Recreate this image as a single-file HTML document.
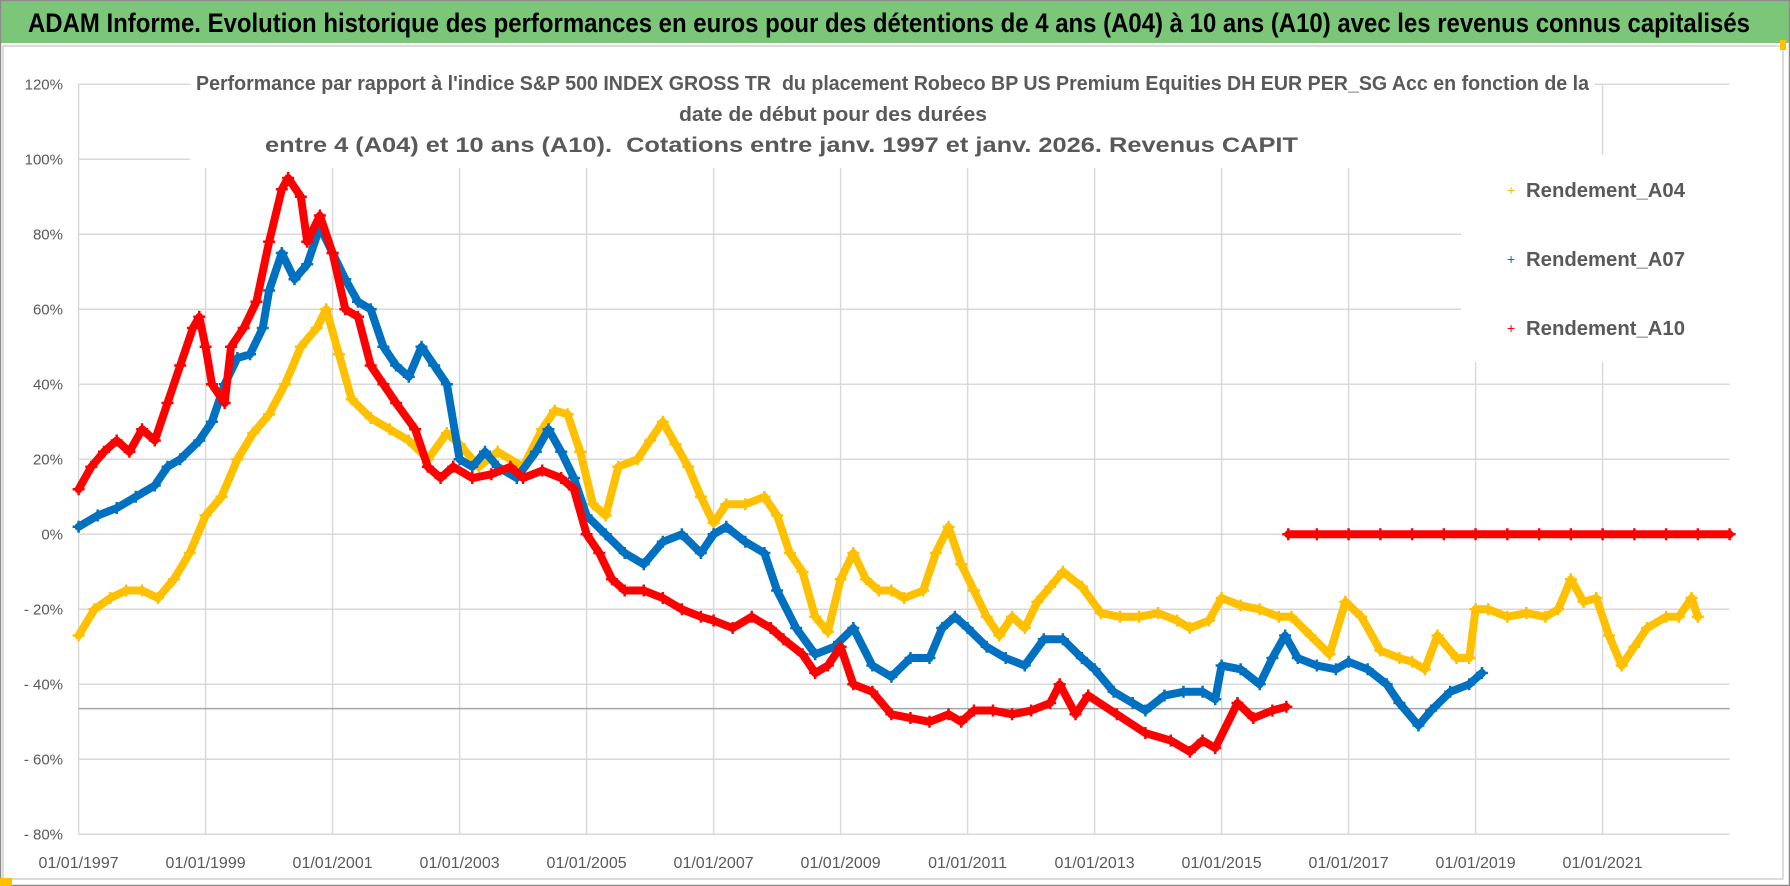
<!DOCTYPE html>
<html><head><meta charset="utf-8"><style>
html,body{margin:0;padding:0;background:#fff;}
svg{display:block;}
text{font-family:"Liberation Sans Narrow","Liberation Sans",sans-serif;white-space:pre;}
</style></head><body>
<svg id="chart" width="1790" height="886" viewBox="0 0 1790 886">
<rect x="0" y="0" width="1790" height="886" fill="#fff"/>
<rect x="0" y="0" width="1790" height="43" fill="#7cc67a"/>
<rect x="0.5" y="0.5" width="1789" height="885" fill="none" stroke="#8c8c8c" stroke-width="1.5"/>
<rect x="3" y="46" width="1780" height="833" fill="none" stroke="#d0d0d0" stroke-width="1.5"/>
<text x="28" y="32" font-size="27" font-weight="bold" fill="#000" textLength="1722" lengthAdjust="spacingAndGlyphs">ADAM Informe. Evolution historique des performances en euros pour des détentions de 4 ans (A04) à 10 ans (A10) avec les revenus connus capitalisés</text>
<g id="grid"></g>
<g id="series"></g>
<g font-weight="bold" fill="#595959">
<text x="196" y="90" font-size="20" textLength="1393" lengthAdjust="spacingAndGlyphs">Performance par rapport à l'indice S&amp;P 500 INDEX GROSS TR  du placement Robeco BP US Premium Equities DH EUR PER_SG Acc en fonction de la</text>
<text x="679" y="121" font-size="20" textLength="308" lengthAdjust="spacingAndGlyphs">date de début pour des durées</text>
<text x="265" y="152" font-size="21" textLength="1033" lengthAdjust="spacingAndGlyphs">entre 4 (A04) et 10 ans (A10).  Cotations entre janv. 1997 et janv. 2026. Revenus CAPIT</text>
<g>
<text x="1507" y="195" font-size="14" fill="#ffc000" font-weight="normal">+</text>
<text x="1526" y="197" font-size="20" textLength="159" lengthAdjust="spacingAndGlyphs">Rendement_A04</text>
<text x="1507" y="264" font-size="14" fill="#0070c0" font-weight="normal">+</text>
<text x="1526" y="266" font-size="20" textLength="159" lengthAdjust="spacingAndGlyphs">Rendement_A07</text>
<text x="1507" y="333" font-size="14" fill="#ff0000" font-weight="normal">+</text>
<text x="1526" y="335" font-size="20" textLength="159" lengthAdjust="spacingAndGlyphs">Rendement_A10</text>
</g>
</g>
<rect x="0" y="878" width="12" height="8" fill="#ffc000"/>
<rect x="1780" y="40" width="6" height="10" fill="#ffc000"/>
</svg>
<script>
const years = [1997,1999,2001,2003,2005,2007,2009,2011,2013,2015,2017,2019,2021];
const yTicks = [120,100,80,60,40,20,0,-20,-40,-60,-80];
const yTickLabels = ["120%","100%","80%","60%","40%","20%","0%","- 20%","- 40%","- 60%","- 80%"];
const refLine = -46.5;

const a04Dates = [1997.0,1997.25,1997.5,1997.75,1998.0,1998.25,1998.5,1998.75,1999.0,1999.25,1999.5,1999.75,2000.0,2000.25,2000.5,2000.75,2000.9,2001.1,2001.3,2001.6,2001.9,2002.2,2002.5,2002.8,2003.0,2003.3,2003.6,2004.0,2004.3,2004.5,2004.7,2004.9,2005.1,2005.3,2005.5,2005.8,2006.0,2006.2,2006.4,2006.6,2006.8,2007.0,2007.2,2007.5,2007.8,2008.0,2008.2,2008.4,2008.6,2008.8,2009.0,2009.2,2009.4,2009.6,2009.8,2010.0,2010.3,2010.5,2010.7,2010.9,2011.1,2011.3,2011.5,2011.7,2011.9,2012.1,2012.3,2012.5,2012.8,2013.1,2013.4,2013.7,2014.0,2014.3,2014.5,2014.8,2015.0,2015.3,2015.6,2015.9,2016.1,2016.4,2016.7,2016.95,2017.2,2017.5,2017.8,2018.0,2018.2,2018.4,2018.7,2018.9,2019.0,2019.2,2019.5,2019.8,2020.1,2020.3,2020.5,2020.7,2020.9,2021.1,2021.3,2021.5,2021.7,2022.0,2022.2,2022.4,2022.5];
const a04Values = [-27,-20,-17,-15,-15,-17,-12,-5,5,10,20,27,32,40,50,55,60,48,36,31,28,25,20,27,24,18,22,18,28,33,32,22,8,5,18,20,25,30,24,18,10,3,8,8,10,5,-5,-10,-22,-26,-12,-5,-12,-15,-15,-17,-15,-5,2,-8,-15,-22,-27,-22,-25,-18,-14,-10,-14,-21,-22,-22,-21,-23,-25,-23,-17,-19,-20,-22,-22,-27,-32,-18,-22,-31,-33,-34,-36,-27,-33,-33,-20,-20,-22,-21,-22,-20,-12,-18,-17,-27,-35,-30,-25,-22,-22,-17,-22];

const a07Dates = [1997.0,1997.3,1997.6,1997.9,1998.2,1998.4,1998.6,1998.9,1999.1,1999.3,1999.5,1999.7,1999.9,2000.0,2000.2,2000.4,2000.6,2000.8,2001.0,2001.2,2001.4,2001.6,2001.8,2002.0,2002.2,2002.4,2002.6,2002.8,2003.0,2003.2,2003.4,2003.6,2003.9,2004.2,2004.4,2004.6,2004.8,2005.0,2005.3,2005.6,2005.9,2006.2,2006.5,2006.8,2007.0,2007.2,2007.5,2007.8,2008.0,2008.3,2008.6,2008.9,2009.2,2009.5,2009.8,2010.1,2010.4,2010.6,2010.8,2011.0,2011.3,2011.6,2011.9,2012.2,2012.5,2012.8,2013.0,2013.3,2013.6,2013.8,2014.1,2014.4,2014.7,2014.9,2015.0,2015.3,2015.6,2015.8,2016.0,2016.2,2016.5,2016.8,2017.0,2017.3,2017.6,2017.8,2018.1,2018.3,2018.6,2018.9,2019.1];
const a07Values = [2,5,7,10,13,18,20,25,30,40,47,48,55,65,75,68,72,82,75,68,62,60,50,45,42,50,45,40,20,18,22,18,15,22,28,22,15,5,0,-5,-8,-2,0,-5,0,2,-2,-5,-15,-25,-32,-30,-25,-35,-38,-33,-33,-25,-22,-25,-30,-33,-35,-28,-28,-33,-36,-42,-45,-47,-43,-42,-42,-44,-35,-36,-40,-33,-27,-33,-35,-36,-34,-36,-40,-45,-51,-47,-42,-40,-37];

const a10Dates = [1997.0,1997.2,1997.4,1997.6,1997.8,1998.0,1998.2,1998.4,1998.6,1998.8,1998.9,1999.0,1999.1,1999.3,1999.4,1999.6,1999.8,2000.0,2000.2,2000.3,2000.5,2000.6,2000.8,2001.0,2001.2,2001.4,2001.6,2001.8,2002.0,2002.3,2002.5,2002.7,2002.9,2003.2,2003.5,2003.8,2004.0,2004.3,2004.6,2004.8,2005.0,2005.2,2005.4,2005.6,2005.9,2006.2,2006.5,2006.8,2007.0,2007.3,2007.6,2007.9,2008.1,2008.4,2008.6,2008.8,2009.0,2009.2,2009.5,2009.8,2010.1,2010.4,2010.7,2010.9,2011.1,2011.4,2011.7,2012.0,2012.3,2012.45,2012.7,2012.9,2013.35,2013.8,2014.2,2014.5,2014.7,2014.9,2015.25,2015.5,2015.8,2016.02,2016.03,2016.05,2016.5,2017.0,2017.5,2018.0,2018.5,2019.0,2019.5,2020.0,2020.5,2021.0,2021.5,2022.0,2022.5,2023.0];
const a10Values = [12,18,22,25,22,28,25,35,45,55,58,50,40,35,50,55,62,78,92,95,90,78,85,75,60,58,45,40,35,28,18,15,18,15,16,18,15,17,15,12,0,-5,-12,-15,-15,-17,-20,-22,-23,-25,-22,-25,-28,-32,-37,-35,-30,-40,-42,-48,-49,-50,-48,-50,-47,-47,-48,-47,-45,-40,-48,-43,-48,-53,-55,-58,-55,-57,-45,-49,-47,-46,null,0,0,0,0,0,0,0,0,0,0,0,0,0,0,0];

const NS = "http://www.w3.org/2000/svg";
const X0 = 78.6, PXY = 63.5, Y0 = 534.3, PXV = 3.75;
const xScale = d => X0 + (d - 1997) * PXY;
const yScale = v => Y0 - v * PXV;
const XR = xScale(2023);

function mk(tag, attrs, parent) {
  const e = document.createElementNS(NS, tag);
  for (const k in attrs) e.setAttribute(k, attrs[k]);
  parent.appendChild(e);
  return e;
}
const grid = document.getElementById('grid');
const series = document.getElementById('series');

yTicks.forEach((v, i) => {
  const l = mk('line', {x1: X0, x2: XR, y1: yScale(v), y2: yScale(v), stroke: '#d9d9d9', 'stroke-width': 1.5}, grid);
  
  
  const t = mk('text', {x: 63, y: yScale(v) + 5, 'text-anchor': 'end', 'font-size': 15, fill: '#595959'}, grid);
  t.textContent = yTickLabels[i];
  
  
});
years.forEach(yr => {
  const l = mk('line', {x1: xScale(yr), x2: xScale(yr), y1: yScale(120), y2: yScale(-80), stroke: '#d9d9d9', 'stroke-width': 1.5}, grid);
  
  
  const t = mk('text', {x: xScale(yr), y: 868, 'text-anchor': 'middle', 'font-size': 16, fill: '#595959'}, grid);
  t.textContent = '01/01/' + yr;
  
  
});
const rl = mk('line', {x1: X0, x2: XR, y1: yScale(refLine), y2: yScale(refLine), stroke: '#a6a6a6', 'stroke-width': 1.5}, grid);



const tb = mk('rect', {x: 190, y: 60, width: 1405, height: 108, fill: '#fff'}, grid);


const lb = mk('rect', {x: 1461, y: 155, width: 275, height: 207, fill: '#fff'}, grid);



function drawSeries(dates, vals, color, name) {
  const g = mk('g', {}, series);
  
  
  let seg = [];
  const segs = [];
  dates.forEach((d, i) => {
    if (vals[i] === null) { if (seg.length) segs.push(seg); seg = []; return; }
    seg.push([xScale(d), yScale(vals[i])]);
  });
  if (seg.length) segs.push(seg);
  segs.forEach(s => {
    const p = mk('polyline', {points: s.map(q => q.join(',')).join(' '), fill: 'none', stroke: color, 'stroke-width': 8, 'stroke-linejoin': 'round', 'stroke-linecap': 'round'}, g);
    
    
    s.forEach(q => {
      const m = mk('path', {d: `M${q[0]-6},${q[1]}h12M${q[0]},${q[1]-6}v12`, stroke: color, 'stroke-width': 2.5}, g);
      
      
    });
  });
}
drawSeries(a04Dates, a04Values, '#ffc000', 'series-a04');
drawSeries(a07Dates, a07Values, '#0070c0', 'series-a07');
drawSeries(a10Dates, a10Values, '#ff0000', 'series-a10');
</script>
</body></html>
